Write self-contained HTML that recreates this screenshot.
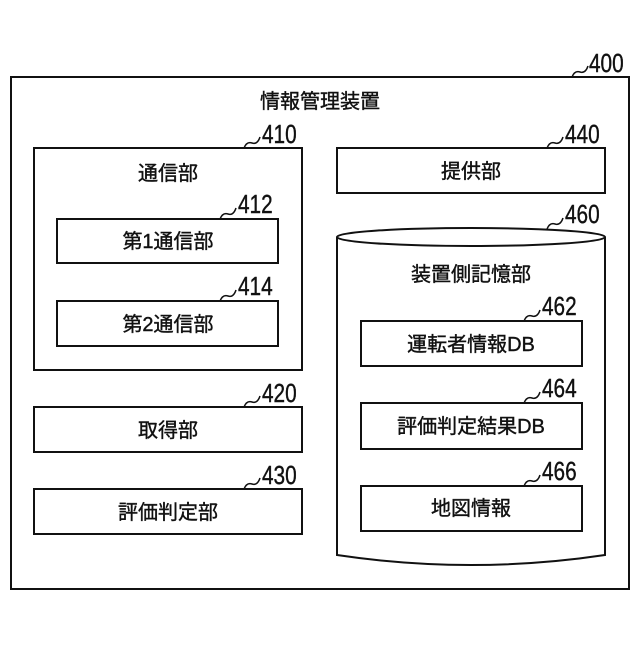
<!DOCTYPE html>
<html><head><meta charset="utf-8"><style>
html,body{margin:0;padding:0;background:#fff}
svg text{font-family:"Liberation Sans","Noto Sans CJK JP",sans-serif;fill:#111;stroke:#111;stroke-width:0.4}
.n{font-size:26px}
.t{font-size:20px}
</style></head><body>
<svg width="640" height="640" viewBox="0 0 640 640" xmlns="http://www.w3.org/2000/svg">
<g fill="none" stroke="#111" stroke-width="2">
<rect x="11" y="77" width="618" height="512"/>
<rect x="34" y="148" width="268" height="222"/>
<rect x="57" y="219" width="221" height="44"/>
<rect x="57" y="301" width="221" height="45"/>
<rect x="34" y="407" width="268" height="45"/>
<rect x="34" y="489" width="268" height="45"/>
<rect x="337" y="148" width="268" height="45"/>
<ellipse cx="471" cy="237" rx="134" ry="9"/>
<path d="M337,237 L337,555 Q471,575 605,555 L605,237"/>
<rect x="361" y="321" width="221" height="45"/>
<rect x="361" y="403" width="221" height="46"/>
<rect x="361" y="486" width="221" height="45"/>
<g stroke-width="1.5">
<path d="M572,77 c2,-5 5,-6 8,-5 c3,1 6,0 8,-6"/>
<path d="M244,148 c2,-5 5,-6 8,-5 c3,1 6,0 8,-6"/>
<path d="M220,219 c2,-5 5,-6 8,-5 c3,1 6,0 8,-6"/>
<path d="M220,301 c2,-5 5,-6 8,-5 c3,1 6,0 8,-6"/>
<path d="M244,407 c2,-5 5,-6 8,-5 c3,1 6,0 8,-6"/>
<path d="M244,489 c2,-5 5,-6 8,-5 c3,1 6,0 8,-6"/>
<path d="M547,148 c2,-5 5,-6 8,-5 c3,1 6,0 8,-6"/>
<path d="M547,229 c2,-5 5,-6 8,-5 c3,1 6,0 8,-6"/>
<path d="M524,321 c2,-5 5,-6 8,-5 c3,1 6,0 8,-6"/>
<path d="M524,403 c2,-5 5,-6 8,-5 c3,1 6,0 8,-6"/>
<path d="M524,486 c2,-5 5,-6 8,-5 c3,1 6,0 8,-6"/>
</g>
</g>
<g class="n" text-anchor="start">
<text x="589" y="72" transform="translate(589 0) scale(0.8 1) translate(-589 0)">400</text>
<text x="262" y="143" transform="translate(262 0) scale(0.8 1) translate(-262 0)">410</text>
<text x="238" y="213" transform="translate(238 0) scale(0.8 1) translate(-238 0)">412</text>
<text x="238" y="295" transform="translate(238 0) scale(0.8 1) translate(-238 0)">414</text>
<text x="262" y="402" transform="translate(262 0) scale(0.8 1) translate(-262 0)">420</text>
<text x="262" y="484" transform="translate(262 0) scale(0.8 1) translate(-262 0)">430</text>
<text x="565" y="143" transform="translate(565 0) scale(0.8 1) translate(-565 0)">440</text>
<text x="565" y="223" transform="translate(565 0) scale(0.8 1) translate(-565 0)">460</text>
<text x="542" y="315" transform="translate(542 0) scale(0.8 1) translate(-542 0)">462</text>
<text x="542" y="397" transform="translate(542 0) scale(0.8 1) translate(-542 0)">464</text>
<text x="542" y="480" transform="translate(542 0) scale(0.8 1) translate(-542 0)">466</text>
</g>
<g class="t" text-anchor="middle">
<text x="320" y="108">情報管理装置</text>
<text x="168" y="180">通信部</text>
<text x="168" y="248">第1通信部</text>
<text x="168" y="331">第2通信部</text>
<text x="168" y="437">取得部</text>
<text x="168" y="519">評価判定部</text>
<text x="471" y="178">提供部</text>
<text x="471" y="281">装置側記憶部</text>
<text x="471" y="351">運転者情報DB</text>
<text x="471" y="433">評価判定結果DB</text>
<text x="471" y="515">地図情報</text>
</g>
</svg>
</body></html>
